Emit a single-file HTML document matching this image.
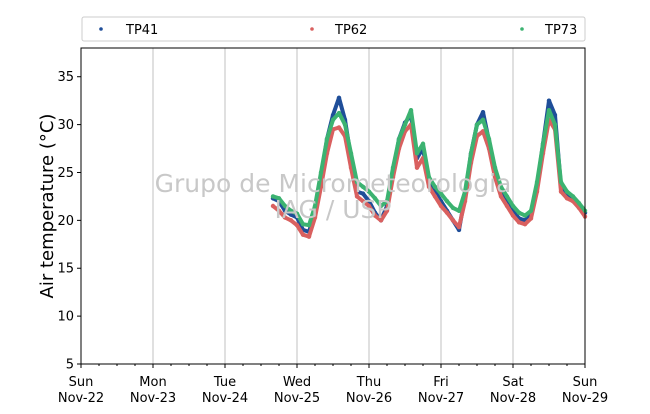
<!DOCTYPE html>
<html><head><meta charset="utf-8"><style>
body{margin:0;background:#fff;font-family:"Liberation Sans","DejaVu Sans",sans-serif}
svg text{font-family:"DejaVu Sans","Liberation Sans",sans-serif}
</style></head><body>
<svg id="chart" width="650" height="409" xmlns="http://www.w3.org/2000/svg">
<rect width="650" height="409" fill="#fff"/>
<g id="grid"></g>
<g id="series"></g>
<text x="333" y="192" font-size="25" fill="#c8c8c8" text-anchor="middle">Grupo de Micrometeorologia</text>
<text x="333" y="218" font-size="25" fill="#c8c8c8" text-anchor="middle">IAG / USP</text>
<rect x="81" y="48" width="504" height="316" fill="none" stroke="#000" stroke-width="1"/>
<g id="axes"></g>
<text transform="translate(53,206) rotate(-90)" font-size="18" text-anchor="middle">Air temperature (°C)</text>
<g>
<rect x="82" y="17" width="503" height="24" rx="2" fill="#fff" stroke="#ccc"/>
<g><circle cx="101" cy="29" r="1.8" fill="#1f4e99"/><text x="126" y="34" font-size="13">TP41</text></g>
<g><circle cx="312" cy="29" r="1.8" fill="#d9605f"/><text x="335" y="34" font-size="13">TP62</text></g>
<g><circle cx="522" cy="29" r="1.8" fill="#3cb371"/><text x="545" y="34" font-size="13">TP73</text></g>
</g>
</svg>
<script>
const startHour = 64;
const stepHours = 2;
const tp41 = [22.3,22,21,20.6,20.3,19,18.8,21,24.5,28.5,31,32.8,30.5,26.5,23,22.8,22,20.8,20,21.5,25,28.5,30.2,31,26.5,27.5,24,23,22,21,20,19,22.5,27,30,31.3,28.3,25,23,22,21,20.2,20,20.7,23.5,28,32.5,31,23.5,22.8,22.3,21.5,20.8];
const tp62 = [21.5,21,20.3,20,19.5,18.5,18.3,20.3,23.5,27,29.5,29.7,28.8,25.5,22.5,22,21.5,20.5,20,21,24.5,27.5,29.3,30,25.5,26.5,23.5,22.5,21.5,20.8,20,19.3,22,26,28.8,29.3,27.5,24.5,22.5,21.5,20.5,19.8,19.6,20.2,23,27,30.5,29.5,23,22.3,22,21.3,20.4];
const tp73 = [22.5,22.3,21.5,21,20.7,19.6,19.5,21.5,25,28.5,30.5,31.2,30,27,24,23.5,23,22.3,21.5,22,25.5,28.5,30,31.5,27,28,24.5,23.5,22.8,22,21.3,21,23,27,30,30.5,28.5,25.5,23.5,22.5,21.5,20.8,20.5,21,24,28,31.5,30,24,23,22.5,21.8,21];
const dayNames = ["Sun","Mon","Tue","Wed","Thu","Fri","Sat","Sun"];
const dayDates = ["Nov-22","Nov-23","Nov-24","Nov-25","Nov-26","Nov-27","Nov-28","Nov-29"];
const yTicks = [5,10,15,20,25,30,35];

const NS="http://www.w3.org/2000/svg";
const X0=81,X1=585,Y0=364,Y1=48,HMAX=168,TMIN=5,TMAX=38;
function xs(h){return X0+(h/HMAX)*(X1-X0);}
function ys(t){return Y0-(t-TMIN)/(TMAX-TMIN)*(Y0-Y1);}
function mk(tag,attrs,parent){const e=document.createElementNS(NS,tag);for(const k in attrs)e.setAttribute(k,attrs[k]);parent.appendChild(e);return e;}
const grid=document.getElementById('grid'),axes=document.getElementById('axes'),ser=document.getElementById('series');
dayNames.forEach((d,i)=>{
  const x=xs(i*24);
  if(i>0&&i<dayNames.length-1){const g=mk('line',{x1:x,x2:x,y1:Y1,y2:Y0,stroke:'#c0c0c0','stroke-width':1},grid);
  
  }
  const t=mk('line',{x1:x,x2:x,y1:Y0,y2:Y0+4,stroke:'#000'},axes);
  
  
  const l=mk('text',{x:x,y:386,'font-size':13,'text-anchor':'middle'},axes);l.textContent=d;
  
  
  const l2=mk('text',{x:x,y:402,'font-size':13,'text-anchor':'middle'},axes);l2.textContent=dayDates[i];
  
  
});
for(let h=6;h<HMAX;h+=6){if(h%24===0)continue;const x=xs(h);const m=mk('line',{x1:x,x2:x,y1:Y0,y2:Y0+2,stroke:'#000'},axes);
  
  }
yTicks.forEach(v=>{const y=ys(v);
  const t=mk('line',{x1:X0-4,x2:X0,y1:y,y2:y,stroke:'#000'},axes);
  
  
  const l=mk('text',{x:X0-7,y:y+4.5,'font-size':13,'text-anchor':'end'},axes);l.textContent=v;
  
  
});
function draw(vals,color,name){
  const g=mk('g',{},ser);
  
  
  const pts=vals.map((v,i)=>xs(startHour+i*stepHours).toFixed(1)+','+ys(v).toFixed(1)).join(' ');
  mk('polyline',{points:pts,fill:'none',stroke:color,'stroke-width':4,'stroke-linejoin':'round','stroke-linecap':'round'},g);
  vals.forEach((v,i)=>{const c=mk('circle',{cx:xs(startHour+i*stepHours),cy:ys(v),r:2.2,fill:color},g);
    
    });
}
draw(tp41,'#1f4e99','series-tp41');
draw(tp62,'#d9605f','series-tp62');
draw(tp73,'#3cb371','series-tp73');
</script>
</body></html>
